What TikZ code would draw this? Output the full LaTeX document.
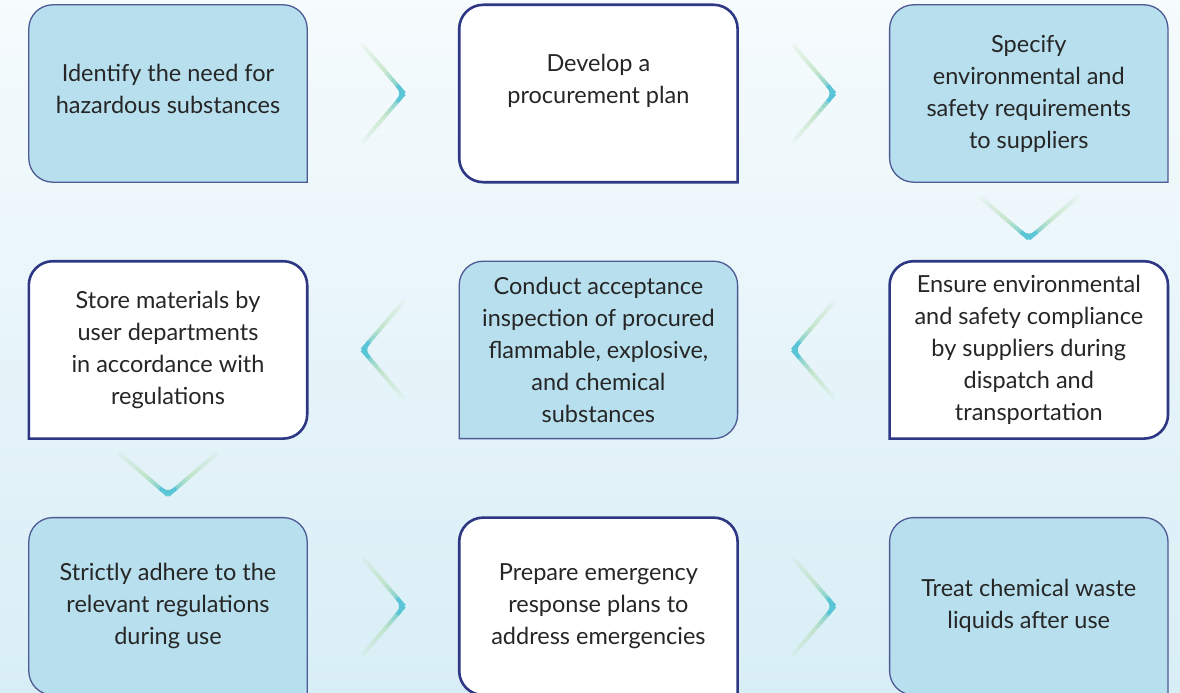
\documentclass[tikz,border=0pt]{standalone}
\usepackage{fontspec}
\setmainfont{Lato}
\usetikzlibrary{positioning,calc,backgrounds}
\definecolor{hzbgtop}{HTML}{F6FBFD}
\definecolor{hzbgbot}{HTML}{D8EEF6}
\definecolor{hzblue}{HTML}{B7DFED}
\definecolor{hzedge}{HTML}{4E5A94}
\definecolor{hznavy}{HTML}{2D3783}
\definecolor{hztext}{HTML}{262626}
\definecolor{hzcyan}{HTML}{5AC5D6}
\definecolor{hzgreen}{HTML}{B0DCAE}
\newcommand{\tabrad}{24pt}
% tab outline, square bottom-right corner
\newcommand{\tabR}[2]{%
  \path[#2] (#1.south east) -- ([xshift=\tabrad]#1.south west)
    arc[start angle=270, end angle=180, radius=\tabrad] -- ([yshift=-\tabrad]#1.north west)
    arc[start angle=180, end angle=90, radius=\tabrad] -- ([xshift=-\tabrad]#1.north east)
    arc[start angle=90, end angle=0, radius=\tabrad] -- cycle;}
% tab outline, square bottom-left corner
\newcommand{\tabL}[2]{%
  \path[#2] (#1.south west) -- ([yshift=-\tabrad]#1.north west)
    arc[start angle=180, end angle=90, radius=\tabrad] -- ([xshift=-\tabrad]#1.north east)
    arc[start angle=90, end angle=0, radius=\tabrad] -- ([yshift=\tabrad]#1.south east)
    arc[start angle=0, end angle=-90, radius=\tabrad] -- cycle;}
% fading chevron: #1 centre, #2 rotation (0 = pointing right)
\newcommand{\chev}[2]{%
  \begin{scope}[shift={#1}, rotate=#2]
    \foreach \s in {-1,1}{
      \foreach \i in {0,...,13}{
        \pgfmathsetmacro\ta{\i/14}
        \pgfmathsetmacro\tb{(\i+1)/14}
        \pgfmathtruncatemacro\mixp{min(100,\i*16)}
        \pgfmathsetmacro\op{1-0.95*\ta}
        \draw[hzSeg, draw=hzgreen!\mixp!hzcyan, draw opacity=\op]
          (21-42*\ta, \s*49*\ta) -- (21-42*\tb, \s*49*\tb);
      }
    }
    \draw[hzTip] (14,-8) -- (21,0) -- (14,8);
  \end{scope}}
\tikzset{
  hzStep/.style={minimum width=278pt, minimum height=177pt, inner sep=0pt,
                 align=center, text=hztext, font=\fontsize{23.5}{32}\selectfont},
  hzBlue/.style={fill=hzblue, draw=hzedge, line width=1.3pt},
  hzWhite/.style={fill=white, draw=hznavy, line width=2.6pt},
  hzSeg/.style={line width=4pt, line cap=butt},
  hzTip/.style={line width=4pt, draw=hzcyan, rounded corners=8pt}
}
\begin{document}
\begin{tikzpicture}[x=1pt, y=1pt, node distance=79pt and 152pt]
  \useasboundingbox (0,0) rectangle (1180,-693);
  % row 1
  \node[hzStep, text depth=10pt] (idn) at (168,-93.5) {Identify the need for\\hazardous substances};
  \node[hzStep, right=of idn, text depth=30pt] (dev) {Develop a\\procurement plan};
  \node[hzStep, right=of dev] (spec) {Specify\\environmental and\\safety requirements\\to suppliers};
  % row 2
  \node[hzStep, below=of spec] (ens) {Ensure environmental\\and safety compliance\\by suppliers during\\dispatch and\\transportation};
  \node[hzStep, left=of ens] (insp) {Conduct acceptance\\inspection of procured\\flammable, explosive,\\and chemical\\substances};
  \node[hzStep, left=of insp] (store) {Store materials by\\user departments\\in accordance with\\regulations};
  % row 3
  \node[hzStep, below=of store] (adh) {Strictly adhere to the\\relevant regulations\\during use};
  \node[hzStep, right=of adh] (emer) {Prepare emergency\\response plans to\\address emergencies};
  \node[hzStep, right=of emer] (waste) {Treat chemical waste\\liquids after use};
  % tabs behind the text
  \begin{pgfonlayer}{background}
    \shade[top color=hzbgtop, bottom color=hzbgbot] (0,0) rectangle (1180,-693);
    \tabR{idn}{hzBlue}
    \tabR{dev}{hzWhite}
    \tabR{spec}{hzBlue}
    \tabL{ens}{hzWhite}
    \tabL{insp}{hzBlue}
    \tabL{store}{hzWhite}
    \tabR{adh}{hzBlue}
    \tabR{emer}{hzWhite}
    \tabR{waste}{hzBlue}
  \end{pgfonlayer}
  % chevrons
  \chev{($(idn.east)!0.5!(dev.west)$)}{0}
  \chev{($(dev.east)!0.5!(spec.west)$)}{0}
  \chev{($(spec.south)!0.45!(ens.north)$)}{-90}
  \chev{($(ens.west)!0.5!(insp.east)$)}{180}
  \chev{($(insp.west)!0.5!(store.east)$)}{180}
  \chev{($(store.south)!0.45!(adh.north)$)}{-90}
  \chev{($(adh.east)!0.5!(emer.west)$)}{0}
  \chev{($(emer.east)!0.5!(waste.west)$)}{0}
\end{tikzpicture}
\end{document}
